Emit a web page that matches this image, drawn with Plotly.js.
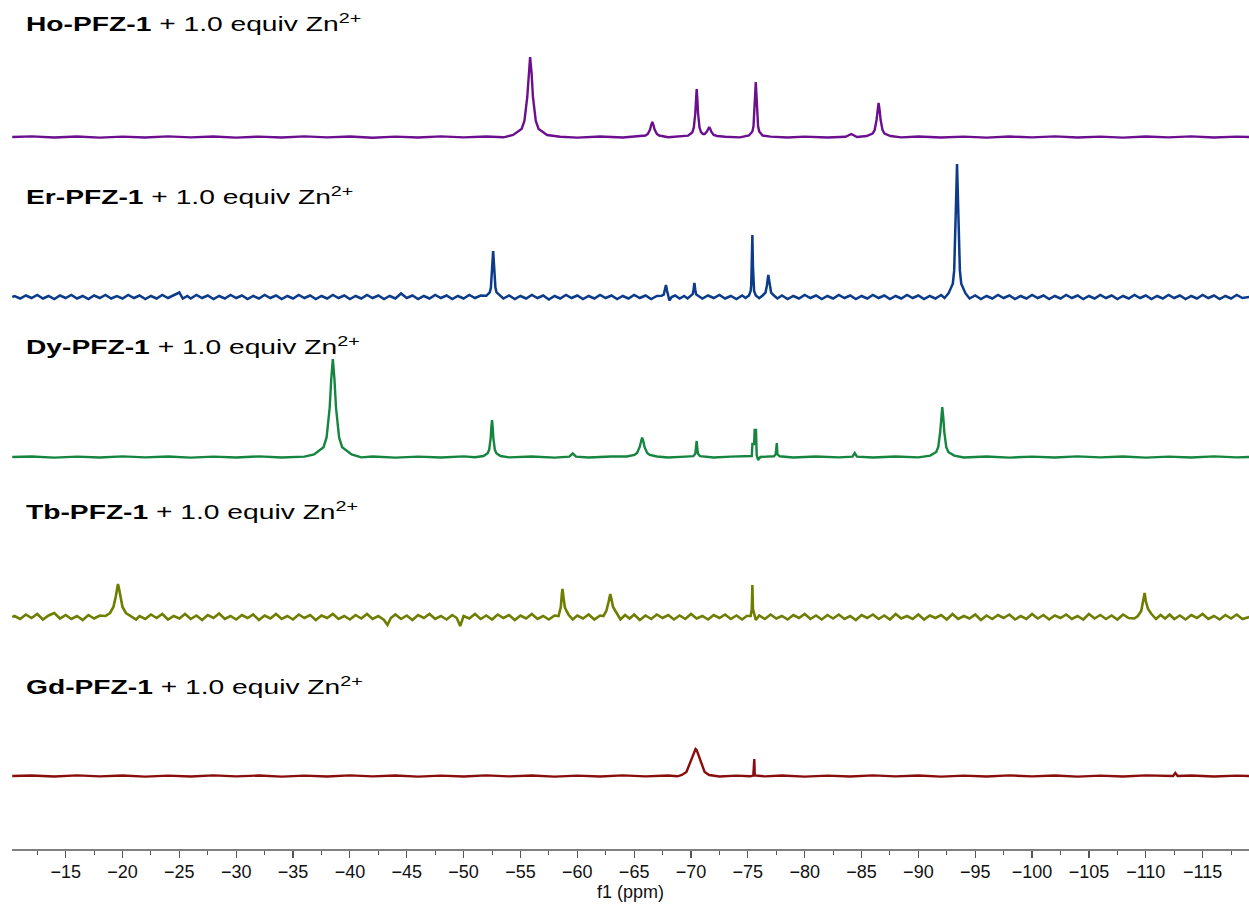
<!DOCTYPE html>
<html>
<head>
<meta charset="utf-8">
<script src="https://cdn.plot.ly/plotly-3.0.1.min.js"></script>
<style>
  html, body { margin: 0; padding: 0; background: #ffffff; }
  #chart { width: 1249px; height: 905px; }
</style>
</head>
<body>
<div id="chart"></div>
<script>
// ---- Data: [ppm, intensity] ----
const sampleNames = ['Ho-PFZ-1', 'Er-PFZ-1', 'Dy-PFZ-1', 'Tb-PFZ-1', 'Gd-PFZ-1'];
const labelSuffix = ' + 1.0 equiv Zn<sup>2+</sup>';
const xTitle = 'f1 (ppm)';

const hoSpectrum = [
[-10.3,0],[-12,0.6],[-14,-0.5],[-16,0.5],[-18,-0.6],[-20,0.4],[-22,-0.5],[-24,0.6],[-26,-0.4],[-28,0.5],[-30,-0.6],[-32,0.4],[-34,-0.5],[-36,0.6],[-38,-0.4],[-40,0.5],[-42,-0.7],[-44,0.4],[-46,-0.5],[-48,0.6],[-50,-0.4],[-52,0.5],[-53.5,-0.3],
[-54.35,2],[-55.1,8],[-55.35,16],[-55.6,40],[-55.72,64],[-55.85,80],[-55.98,64],[-56.1,40],[-56.35,16],[-56.6,8],[-57.35,2],
[-58.5,0.3],[-60,-0.6],[-62,0.5],[-64,-0.5],[-65.4,0.4],
[-66,1.5],[-66.2,3],[-66.4,7.5],[-66.5,12],[-66.6,15],[-66.7,12],[-66.8,7.5],[-67,3],[-67.2,1.5],
[-68,-0.3],[-69.2,0.4],
[-69.75,1.3],[-70.12,4.8],[-70.25,9.6],[-70.38,24],[-70.44,38],[-70.5,48],[-70.56,38],[-70.62,24],[-70.75,9.6],[-70.88,4.8],[-71.05,3],[-71.2,3],[-71.4,5.5],[-71.5,8],[-71.6,10],[-71.7,8],[-71.8,5],[-72,2],[-72.3,1],
[-73,0.3],[-74.3,-0.4],
[-75.1,1.5],[-75.4,5.5],[-75.5,11],[-75.6,27.5],[-75.65,44],[-75.7,55],[-75.75,44],[-75.8,27.5],[-75.9,11],[-76,5.5],[-76.3,1.5],
[-77,0.4],[-78.5,-0.5],[-80,0.4],[-82,-0.5],[-83.6,0.2],[-84.1,3],[-84.6,0],
[-85.45,1],[-85.97,3.4],[-86.15,6.8],[-86.32,17],[-86.41,27],[-86.5,34],[-86.59,27],[-86.68,17],[-86.85,6.8],[-87.02,3.4],[-87.55,1],
[-88.5,-0.4],[-90,0.5],[-92,-0.5],[-94,0.4],[-96,-0.6],[-98,0.5],[-100,-0.4],[-102,0.6],[-104,-0.5],[-106,0.4],[-108,-0.6],[-110,0.5],[-112,-0.4],[-114,0.6],[-116,-0.5],[-118,0.4],[-119.1,0]
];

const erSpectrum = [
[-10.3,0],[-10.5,1],[-11,-1.5],[-11.5,1.5],[-12,-1],[-12.5,2],[-13,-1.5],[-13.5,1],[-14,-2],[-14.5,1.5],[-15,-1],[-15.5,2],[-16,-1.5],[-16.5,1],[-17,-2],[-17.5,1.5],[-18,-1],[-18.5,2],[-19,-1.5],[-19.5,1],[-20,-1.5],[-20.5,2],[-21,-1],[-21.5,1.5],[-22,-2],[-22.5,1],[-23,-1.5],[-23.5,2],[-24,-1],[-24.5,1.5],[-25,4.5],[-25.3,-1.5],[-25.7,1],[-26,-1.5],[-26.5,2],[-27,-1],[-27.5,1.5],[-28,-2],[-28.5,1],[-29,-1.5],[-29.5,2],[-30,-1],[-30.5,1.5],[-31,-2],[-31.5,1],[-32,-1.5],[-32.5,2],[-33,-1],[-33.5,1.5],[-34,-2],[-34.5,1],[-35,-1.5],[-35.5,2],[-36,-1],[-36.5,1.5],[-37,-2],[-37.5,1],[-38,-1.5],[-38.5,2],[-39,-1],[-39.5,1.5],[-40,-2],[-40.5,1],[-41,-1.5],[-41.5,2],[-42,-1],[-42.5,1.5],[-43,-2],[-43.5,1],[-44,-1.5],[-44.5,3.5],[-45,-1],[-45.5,1.5],[-46,-2],[-46.5,1],[-47,-1.5],[-47.5,2],[-48,-1],[-48.5,1.5],[-49,-2],[-49.5,1],[-50,-1.5],[-50.5,2],[-51,-1],[-51.5,1.5],
[-52,1.2],[-52.3,4.6],[-52.4,9.2],[-52.5,23],[-52.55,37],[-52.6,46],[-52.65,37],[-52.7,23],[-52.8,9.2],[-52.9,4.6],[-53.2,1.2],
[-53.5,-1.5],[-54,1.5],[-54.5,-2],[-55,1],[-55.5,-1.5],[-56,2],[-56.5,-1],[-57,1.5],[-57.5,-2.5],[-58,1],[-58.5,-1.5],[-59,2],[-59.5,-1],[-60,1.5],[-60.5,-2],[-61,1],[-61.5,-1.5],[-62,2],[-62.5,-1],[-63,1.5],[-63.5,-2],[-64,1],[-64.5,-1.5],[-65,2],[-65.5,-1],[-66,1.5],[-66.5,-2],[-67,1],
[-67.4,1.2],[-67.6,2.4],[-67.7,6],[-67.8,12],[-67.9,6],[-68,2.4],[-68.1,-3.5],[-68.3,0],
[-68.6,1.5],[-69,-1.5],[-69.4,1],[-69.7,-1.5],
[-70,1.4],[-70.15,2.8],[-70.22,7],[-70.3,14],[-70.38,7],[-70.45,2.8],[-70.6,1.4],
[-71,-1.5],[-71.5,1.5],[-72,-1],[-72.5,2],[-73,-1.5],[-73.5,1],[-74,-2],[-74.5,1.5],[-74.8,-1],
[-75.1,1.6],[-75.25,6],[-75.3,12],[-75.35,31],[-75.4,62],[-75.45,31],[-75.5,12],[-75.55,6],[-75.7,1.6],
[-76,-1.2],[-76.3,1.5],[-76.55,4.4],[-76.67,11],[-76.74,17.6],[-76.8,22],[-76.86,17.6],[-76.93,11],[-77.05,4.4],[-77.3,1.5],
[-77.6,-1.5],[-78,1.5],[-78.5,-2],[-79,1],[-79.5,-1.5],[-80,2],[-80.5,-1],[-81,1.5],[-81.5,-2],[-82,1],[-82.5,-1.5],[-83,2],[-83.5,-1],[-84,1.5],[-84.5,-2],[-85,1],[-85.5,-1.5],[-86,2],[-86.5,-1],[-87,1.5],[-87.5,-2],[-88,1],[-88.5,-1.5],[-89,2],[-89.5,-1],[-90,1.5],[-90.5,-2],[-91,1],[-91.5,-1.5],[-92,2],[-92.3,-1],
[-92.65,3.6],[-93.03,13.3],[-93.15,26.6],[-93.27,66.5],[-93.34,106],[-93.4,133],[-93.46,106],[-93.53,66.5],[-93.65,26.6],[-93.77,13.3],[-94.15,3.6],
[-94.5,-1.5],[-95,1.5],[-95.5,-2],[-96,1],[-96.5,-1.5],[-97,2],[-97.5,-1],[-98,1.5],[-98.5,-2],[-99,1],[-99.5,-1.5],[-100,2],[-100.5,-1],[-101,1.5],[-101.5,-2],[-102,1],[-102.5,-1.5],[-103,2],[-103.5,-1],[-104,1.5],[-104.5,-2],[-105,1],[-105.5,-1.5],[-106,2],[-106.5,-1],[-107,1.5],[-107.5,-2],[-108,1],[-108.5,-1.5],[-109,2],[-109.5,-1],[-110,1.5],[-110.5,-2],[-111,1],[-111.5,-1.5],[-112,2],[-112.5,-1],[-113,1.5],[-113.5,-2],[-114,1],[-114.5,-1.5],[-115,2],[-115.5,-1],[-116,1.5],[-116.5,-2],[-117,1],[-117.5,-1.5],[-118,2],[-118.5,-1],[-119.1,0]
];

const dySpectrum = [
[-10.3,0],[-12,0.5],[-14,-0.6],[-16,0.4],[-18,-0.5],[-20,0.6],[-22,-0.4],[-24,0.5],[-26,-0.6],[-28,0.4],[-30,-0.5],[-32,0.6],[-34,-0.5],[-36,0.4],
[-36.85,2.6],[-37.68,9.8],[-37.95,19.6],[-38.22,49],[-38.36,78],[-38.5,98],[-38.64,78],[-38.78,49],[-39.05,19.6],[-39.32,9.8],[-40.15,2.6],
[-41,-0.4],[-42,0.5],[-44,-0.6],[-46,0.4],[-48,-0.5],[-50,0.6],[-51,-0.3],
[-51.75,1],[-52.12,3.7],[-52.25,7.4],[-52.38,18.5],[-52.44,30],[-52.5,37],[-52.56,30],[-52.62,18.5],[-52.75,7.4],[-52.88,3.7],[-53.25,1],
[-54,-0.4],[-56,0.5],[-58,-0.6],[-59.3,0.3],[-59.6,3.5],[-59.9,0.3],[-61,-0.5],[-63,0.5],[-64.35,0.5],
[-65.03,2],[-65.25,4],[-65.48,9.8],[-65.59,15.6],[-65.7,19.5],[-65.81,15.6],[-65.92,9.8],[-66.15,4],[-66.38,2],[-67,0.5],
[-68,-0.5],[-69.5,0.4],
[-70.2,0.8],[-70.38,3.2],[-70.44,8],[-70.5,16],[-70.56,8],[-70.62,3.2],[-70.8,0.8],
[-72,-0.5],[-73.5,0.4],[-75.2,0.5],[-75.35,1],[-75.4,13],[-75.55,13],[-75.6,27],[-75.72,27],[-75.78,2],[-75.9,-3],[-76.1,0],
[-76.8,0.4],[-77.3,0.7],[-77.45,2.8],[-77.5,14],[-77.55,14],[-77.6,2.8],[-77.8,0.7],
[-79,-0.5],[-81,0.5],[-83,-0.4],[-84.2,0.3],[-84.4,4],[-84.6,0.3],[-86,-0.5],[-88,0.5],[-90,-0.4],[-91.05,1.4],
[-91.57,5],[-91.75,10],[-91.92,25],[-92.01,40],[-92.1,50],[-92.19,40],[-92.28,25],[-92.45,10],[-92.63,5],[-93.15,1.4],
[-94,-0.5],[-96,0.5],[-98,-0.6],[-100,0.4],[-102,-0.5],[-104,0.6],[-106,-0.4],[-108,0.5],[-110,-0.6],[-112,0.4],[-114,-0.5],[-116,0.6],[-118,-0.4],[-119.1,0]
];

const tbSpectrum = [
[-10.3,0],[-10.5,1],[-11,-2],[-11.5,2.5],[-12,-1],[-12.5,3],[-13,-2.5],[-13.5,1.5],[-14,4],[-14.5,-1.5],[-15,2],[-15.5,-2],[-16,1],[-16.5,-3],[-17,2],[-17.5,-1.5],[-18,1.5],
[-18.5,1],[-18.9,4],[-19.2,10],[-19.4,20],[-19.5,28],[-19.6,33],[-19.7,28],[-19.85,18],[-20,10],[-20.3,4],[-20.7,1],
[-21.2,-2.5],[-21.5,1],[-22,-2],[-22.5,2.5],[-23,-1],[-23.5,3],[-24,-2.5],[-24.5,1],[-25,-1.5],[-25.5,3],[-26,-2],[-26.5,1.5],[-27,-3],[-27.5,2],[-28,-1],[-28.5,3.5],[-29,-2],[-29.5,1],[-30,-2.5],[-30.5,2],[-31,-1],[-31.5,2.5],[-32,-3],[-32.5,1.5],[-33,-1.5],[-33.5,3],[-34,-2],[-34.5,1],[-35,-2.5],[-35.5,2.5],[-36,-1],[-36.5,2],[-37,-3],[-37.5,1.5],[-38,-1],[-38.5,3],[-39,-2],[-39.5,1],[-40,-2.5],[-40.5,2],[-41,-1.5],[-41.5,3],[-42,-2],[-42.5,1],[-43,-3],[-43.3,-8],[-43.6,-1],[-44,2.5],[-44.5,-2],[-45,1.5],[-45.5,-3],[-46,2],[-46.5,-1],[-47,3],[-47.5,-2],[-48,1],[-48.5,-2.5],[-49,2],[-49.4,-1],[-49.7,-9],[-50,1],[-50.5,-1.5],[-51,3],[-51.5,-2],[-52,1.5],[-52.5,-2.5],[-53,2.5],[-53.5,-1],[-54,2],[-54.5,-3],[-55,1.5],[-55.5,-1.5],[-56,3],[-56.5,-2],[-57,1],[-57.5,-2.5],[-58,1.5],
[-58.35,1],[-58.55,10],[-58.65,24],[-58.7,28],[-58.78,20],[-58.9,10],[-59.05,6],[-59.25,2],
[-59.6,-2.5],[-60,1.5],[-60.5,-1.5],[-61,2.5],[-61.5,-2.5],[-62,1.5],
[-62.3,1],[-62.55,6],[-62.75,15],[-62.9,23],[-63,18],[-63.15,10],[-63.3,7],[-63.5,3],[-63.8,-2.5],
[-64.2,2],[-64.6,-1.5],[-65,2.5],[-65.5,-3],[-66,1.5],[-66.5,-2],[-67,2.5],[-67.5,-1],[-68,2],[-68.5,-2.5],[-69,1.5],[-69.5,-2],[-70,3],[-70.5,-1.5],[-71,1],[-71.5,-2.5],[-72,2],[-72.5,-1],[-73,2.5],[-73.5,-2],[-74,1.5],[-74.5,-2.5],[-74.9,1],
[-75.25,1],[-75.35,8],[-75.4,32],[-75.45,8],[-75.55,2],[-75.7,-3],
[-76,1.5],[-76.5,-2],[-77,2.5],[-77.5,-1.5],[-78,1],[-78.5,-2.5],[-79,2],[-79.5,-1],[-80,3],[-80.5,-2],[-81,1.5],[-81.5,-2.5],[-82,2],[-82.5,-1.5],[-83,2.5],[-83.5,-2],[-84,1],[-84.5,-3],[-85,2],[-85.5,-1],[-86,2.5],[-86.5,-2],[-87,1.5],[-87.5,-2.5],[-88,3],[-88.5,-1.5],[-89,1],[-89.5,-2],[-90,2.5],[-90.5,-2.5],[-91,1.5],[-91.5,-1],[-92,2],[-92.5,-2.5],[-93,3],[-93.5,-2],[-94,1],[-94.5,-1.5],[-95,2.5],[-95.5,-3],[-96,1.5],[-96.5,-2],[-97,2],[-97.5,-1],[-98,2.5],[-98.5,-2.5],[-99,1],[-99.5,-2],[-100,3],[-100.5,-1.5],[-101,2],[-101.5,-2.5],[-102,1.5],[-102.5,-1],[-103,2.5],[-103.5,-2],[-104,1],[-104.5,-2.5],[-105,3],[-105.5,-1.5],[-106,2],[-106.5,-2],[-107,1.5],[-107.5,-2.5],[-108,2.5],[-108.5,-1],[-109,-1.5],
[-109.3,1],[-109.6,6],[-109.8,16],[-109.9,24],[-110,16],[-110.2,8],[-110.5,3],[-110.9,-2],
[-111.3,2],[-111.7,-1.5],[-112.1,2.5],[-112.5,-2],[-113,1.5],[-113.5,-2.5],[-114,2],[-114.5,-1],[-115,3],[-115.5,-2],[-116,1],[-116.5,-2.5],[-117,2],[-117.5,-1.5],[-118,2.5],[-118.5,-2],[-119.1,0]
];

const gdSpectrum = [
[-10.3,0],[-12,0.5],[-14,-0.5],[-16,0.6],[-18,-0.4],[-20,0.5],[-22,-0.6],[-24,0.4],[-26,-0.5],[-28,0.6],[-30,-0.4],[-32,0.5],[-34,-0.6],[-36,0.4],[-38,-0.5],[-40,0.6],[-42,-0.4],[-44,0.5],[-46,-0.6],[-48,0.4],[-50,-0.5],[-52,0.6],[-54,-0.4],[-56,0.5],[-58,-0.6],[-60,0.4],[-62,-0.5],[-64,0.6],[-66,-0.4],[-68,0.5],[-68.8,-0.3],
[-69.2,1],[-69.6,4],[-69.9,13],[-70.1,20],[-70.3,26],[-70.4,27],[-70.5,26],[-70.7,20],[-70.9,13],[-71.2,4],[-71.6,1],
[-72.5,-0.5],[-74,0.4],[-75.2,-0.3],[-75.48,0.5],[-75.52,17],[-75.57,17],[-75.61,0.5],[-76.5,-0.4],[-78,0.5],[-80,-0.6],[-82,0.4],[-84,-0.5],[-86,0.6],[-88,-0.4],[-90,0.5],[-92,-0.6],[-94,0.4],[-96,-0.5],[-98,0.6],[-100,-0.4],[-102,0.5],[-104,-0.6],[-106,0.4],[-108,-0.5],[-110,0.6],[-112,-0.3],[-112.4,0],[-112.6,3],[-112.8,0],[-114,0.5],[-116,-0.5],[-118,0.4],[-119.1,0]
];

// ---- Layout / style (not data) ----
const spectra = [hoSpectrum, erSpectrum, dySpectrum, tbSpectrum, gdSpectrum];
const baselines = [-137, -297, -457, -617, -776];      // stacking offsets (y axis units = px)
const labelY = [-22, -195, -345, -510, -685];
const colors = ['#6b0f8f', '#0c3b8a', '#15853f', '#6e7e00', '#8a0d0d'];
const widths = [2.4, 2.5, 2.4, 2.6, 2.4];

const traces = spectra.map((s, i) => ({
  type: 'scatter',
  mode: 'lines',
  x: s.map(p => p[0]),
  y: s.map(p => baselines[i] + p[1]),
  line: { color: colors[i], width: widths[i] },
  hoverinfo: 'skip',
  showlegend: false
}));

const annotations = sampleNames.map((n, i) => ({
  xref: 'paper', yref: 'y',
  x: 0, y: labelY[i],
  xanchor: 'left', yanchor: 'middle', align: 'left',
  xshift: 12,
  showarrow: false,
  text: '<b>' + n + '</b>' + labelSuffix,
  font: { family: 'Liberation Sans, Arial, sans-serif', size: 20, color: '#000000' }
}));

const axisFont = { family: 'Liberation Sans, Arial, sans-serif', size: 18, color: '#111111' };

const layout = {
  width: 1249, height: 905,
  margin: { l: 12, r: 0, t: 0, b: 56, pad: 0 },
  paper_bgcolor: '#ffffff',
  plot_bgcolor: '#ffffff',
  showlegend: false,
  xaxis: {
    range: [-10.28, -119.08],
    tick0: 0, dtick: 5,
    showgrid: false, zeroline: false,
    showline: true, linecolor: '#808080', linewidth: 1.5,
    ticks: 'outside', ticklen: 7, tickwidth: 1.2, tickcolor: '#555555',
    ticklabelstandoff: -1,
    minor: { dtick: 2.5, ticks: 'outside', ticklen: 4, tickwidth: 1, tickcolor: '#555555', showgrid: false },
    tickfont: axisFont,
    title: { text: xTitle, standoff: 3, font: axisFont },
    automargin: false
  },
  yaxis: {
    range: [-849, 0],
    visible: false, showgrid: false, zeroline: false, fixedrange: true
  },
  annotations: annotations
};

Plotly.newPlot('chart', traces, layout, { staticPlot: true, displayModeBar: false }).then(() => {
  // the reference labels are set wider than their height suggests: stretch the glyphs horizontally
  document.querySelectorAll('#chart .annotation-text').forEach(t => {
    const len = t.getComputedTextLength();
    if (len > 0) {
      t.setAttribute('textLength', (len * 1.41).toFixed(1));
      t.setAttribute('lengthAdjust', 'spacingAndGlyphs');
    }
  });
});
</script>
</body>
</html>
